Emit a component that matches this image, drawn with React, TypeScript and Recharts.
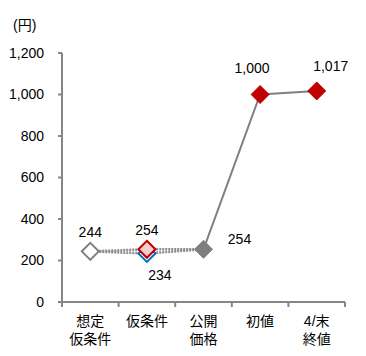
import { ComposedChart, Line, XAxis, YAxis, LabelList } from 'recharts';

const categories = [['想定', '仮条件'], ['仮条件'], ['公開', '価格'], ['初値'], ['4/末', '終値']];
// 点線：仮条件の上限・下限を通る2本
const upperPath = [244, 254, 254, null, null];
const lowerPath = [244, 234, 254, null, null];
// 実線：公開価格から後
const mainPath = [null, null, 254, 1000, 1017];
// マーカー
const hollowMark = [244, null, null, null, null];
const blueMark = [null, 234, null, null, null];
const pinkMark = [null, 254, null, null, null];
const grayMark = [null, null, 254, null, null];
const redMark = [null, null, null, 1000, 1017];
const yTicks = [0, 200, 400, 600, 800, 1000, 1200];

const data = categories.map((c, i) => ({
  x: i + 0.5,
  upper: upperPath[i],
  lower: lowerPath[i],
  main: mainPath[i],
  hollow: hollowMark[i],
  blue: blueMark[i],
  pink: pinkMark[i],
  gray: grayMark[i],
  red: redMark[i],
}));

const FONT = '"Liberation Sans", Arial, "Noto Sans CJK JP", sans-serif';
const AXIS = '#868686';
const fmt = (v: number) => v.toLocaleString('en-US');

const diamond = (fill: string, stroke: string, r: number, sw: number) => (props: any) => {
  const { cx, cy, index } = props;
  if (cx == null || cy == null || props.value == null) return <g key={index} />;
  return (
    <path
      key={index}
      d={`M${cx},${cy - r} L${cx + r},${cy} L${cx},${cy + r} L${cx - r},${cy} Z`}
      fill={fill}
      stroke={stroke}
      strokeWidth={sw}
    />
  );
};

const makeLabel = (offsets: Record<number, [number, number]>) => (props: any) => {
  const { x, y, value, index } = props;
  if (value == null || x == null || y == null) return null;
  const [dx, dy] = offsets[index] ?? [0, -19];
  return (
    <text
      key={index}
      x={x + dx}
      y={y + dy}
      textAnchor="middle"
      dominantBaseline="central"
      fontSize={14}
      fontFamily={FONT}
      fill="#000"
    >
      {fmt(value)}
    </text>
  );
};

const XTick = (props: any) => {
  const { x, y, payload } = props;
  const lines = categories[payload.value];
  if (!lines) return null;
  return (
    <text x={x + 28.3} y={y} textAnchor="middle" fontSize={14} fontFamily={FONT} fill="#000">
      {lines.map((l, i) => (
        <tspan key={i} x={x + 28.3} dy={i === 0 ? 17 : 18}>
          {l}
        </tspan>
      ))}
    </text>
  );
};

export default function App() {
  return (
    <div style={{ position: 'relative', width: 350, height: 340, fontFamily: FONT }}>
      <div style={{ position: 'absolute', left: 5, top: 6, fontSize: 14, color: '#000' }}>(円)</div>
      <ComposedChart width={350} height={340} data={data} margin={{ top: 45, right: 13, left: 0, bottom: 6 }}>
        <XAxis
          dataKey="x"
          type="number"
          domain={[0, 5]}
          ticks={[0, 1, 2, 3, 4, 5]}
          tick={<XTick />}
          tickSize={5}
          height={40}
          stroke={AXIS}
          strokeWidth={2}
          interval={0}
        />
        <YAxis
          domain={[0, 1200]}
          ticks={yTicks}
          tickFormatter={fmt}
          width={54}
          tickSize={4}
          tickMargin={14}
          stroke={AXIS}
          strokeWidth={2}
          tick={{ fontSize: 14, fill: '#000', fontFamily: FONT }}
          interval={0}
        />
        <Line dataKey="upper" stroke="#8c8c8c" strokeWidth={2.5} strokeDasharray="2 1" dot={false} isAnimationActive={false} />
        <Line dataKey="lower" stroke="#8c8c8c" strokeWidth={2.5} strokeDasharray="2 1" dot={false} isAnimationActive={false} />
        <Line dataKey="main" stroke="#808080" strokeWidth={2} dot={false} isAnimationActive={false} />
        <Line dataKey="hollow" stroke="none" dot={diamond('#fff', '#7f7f7f', 8.5, 2)} isAnimationActive={false}>
          <LabelList dataKey="hollow" content={makeLabel({ 0: [0, -19] })} />
        </Line>
        <Line dataKey="blue" stroke="none" dot={diamond('#fff', '#0070c0', 8.5, 2)} isAnimationActive={false}>
          <LabelList dataKey="blue" content={makeLabel({ 1: [13, 22] })} />
        </Line>
        <Line dataKey="pink" stroke="none" dot={diamond('#f4cccc', '#c00000', 8.5, 2)} isAnimationActive={false}>
          <LabelList dataKey="pink" content={makeLabel({ 1: [0, -19] })} />
        </Line>
        <Line dataKey="gray" stroke="none" dot={diamond('#7f7f7f', '#7f7f7f', 9, 1)} isAnimationActive={false}>
          <LabelList dataKey="gray" content={makeLabel({ 2: [36, -10] })} />
        </Line>
        <Line dataKey="red" stroke="none" dot={diamond('#c00000', '#c00000', 9, 1)} isAnimationActive={false}>
          <LabelList dataKey="red" content={makeLabel({ 3: [-8, -27], 4: [14, -25] })} />
        </Line>
      </ComposedChart>
    </div>
  );
}
